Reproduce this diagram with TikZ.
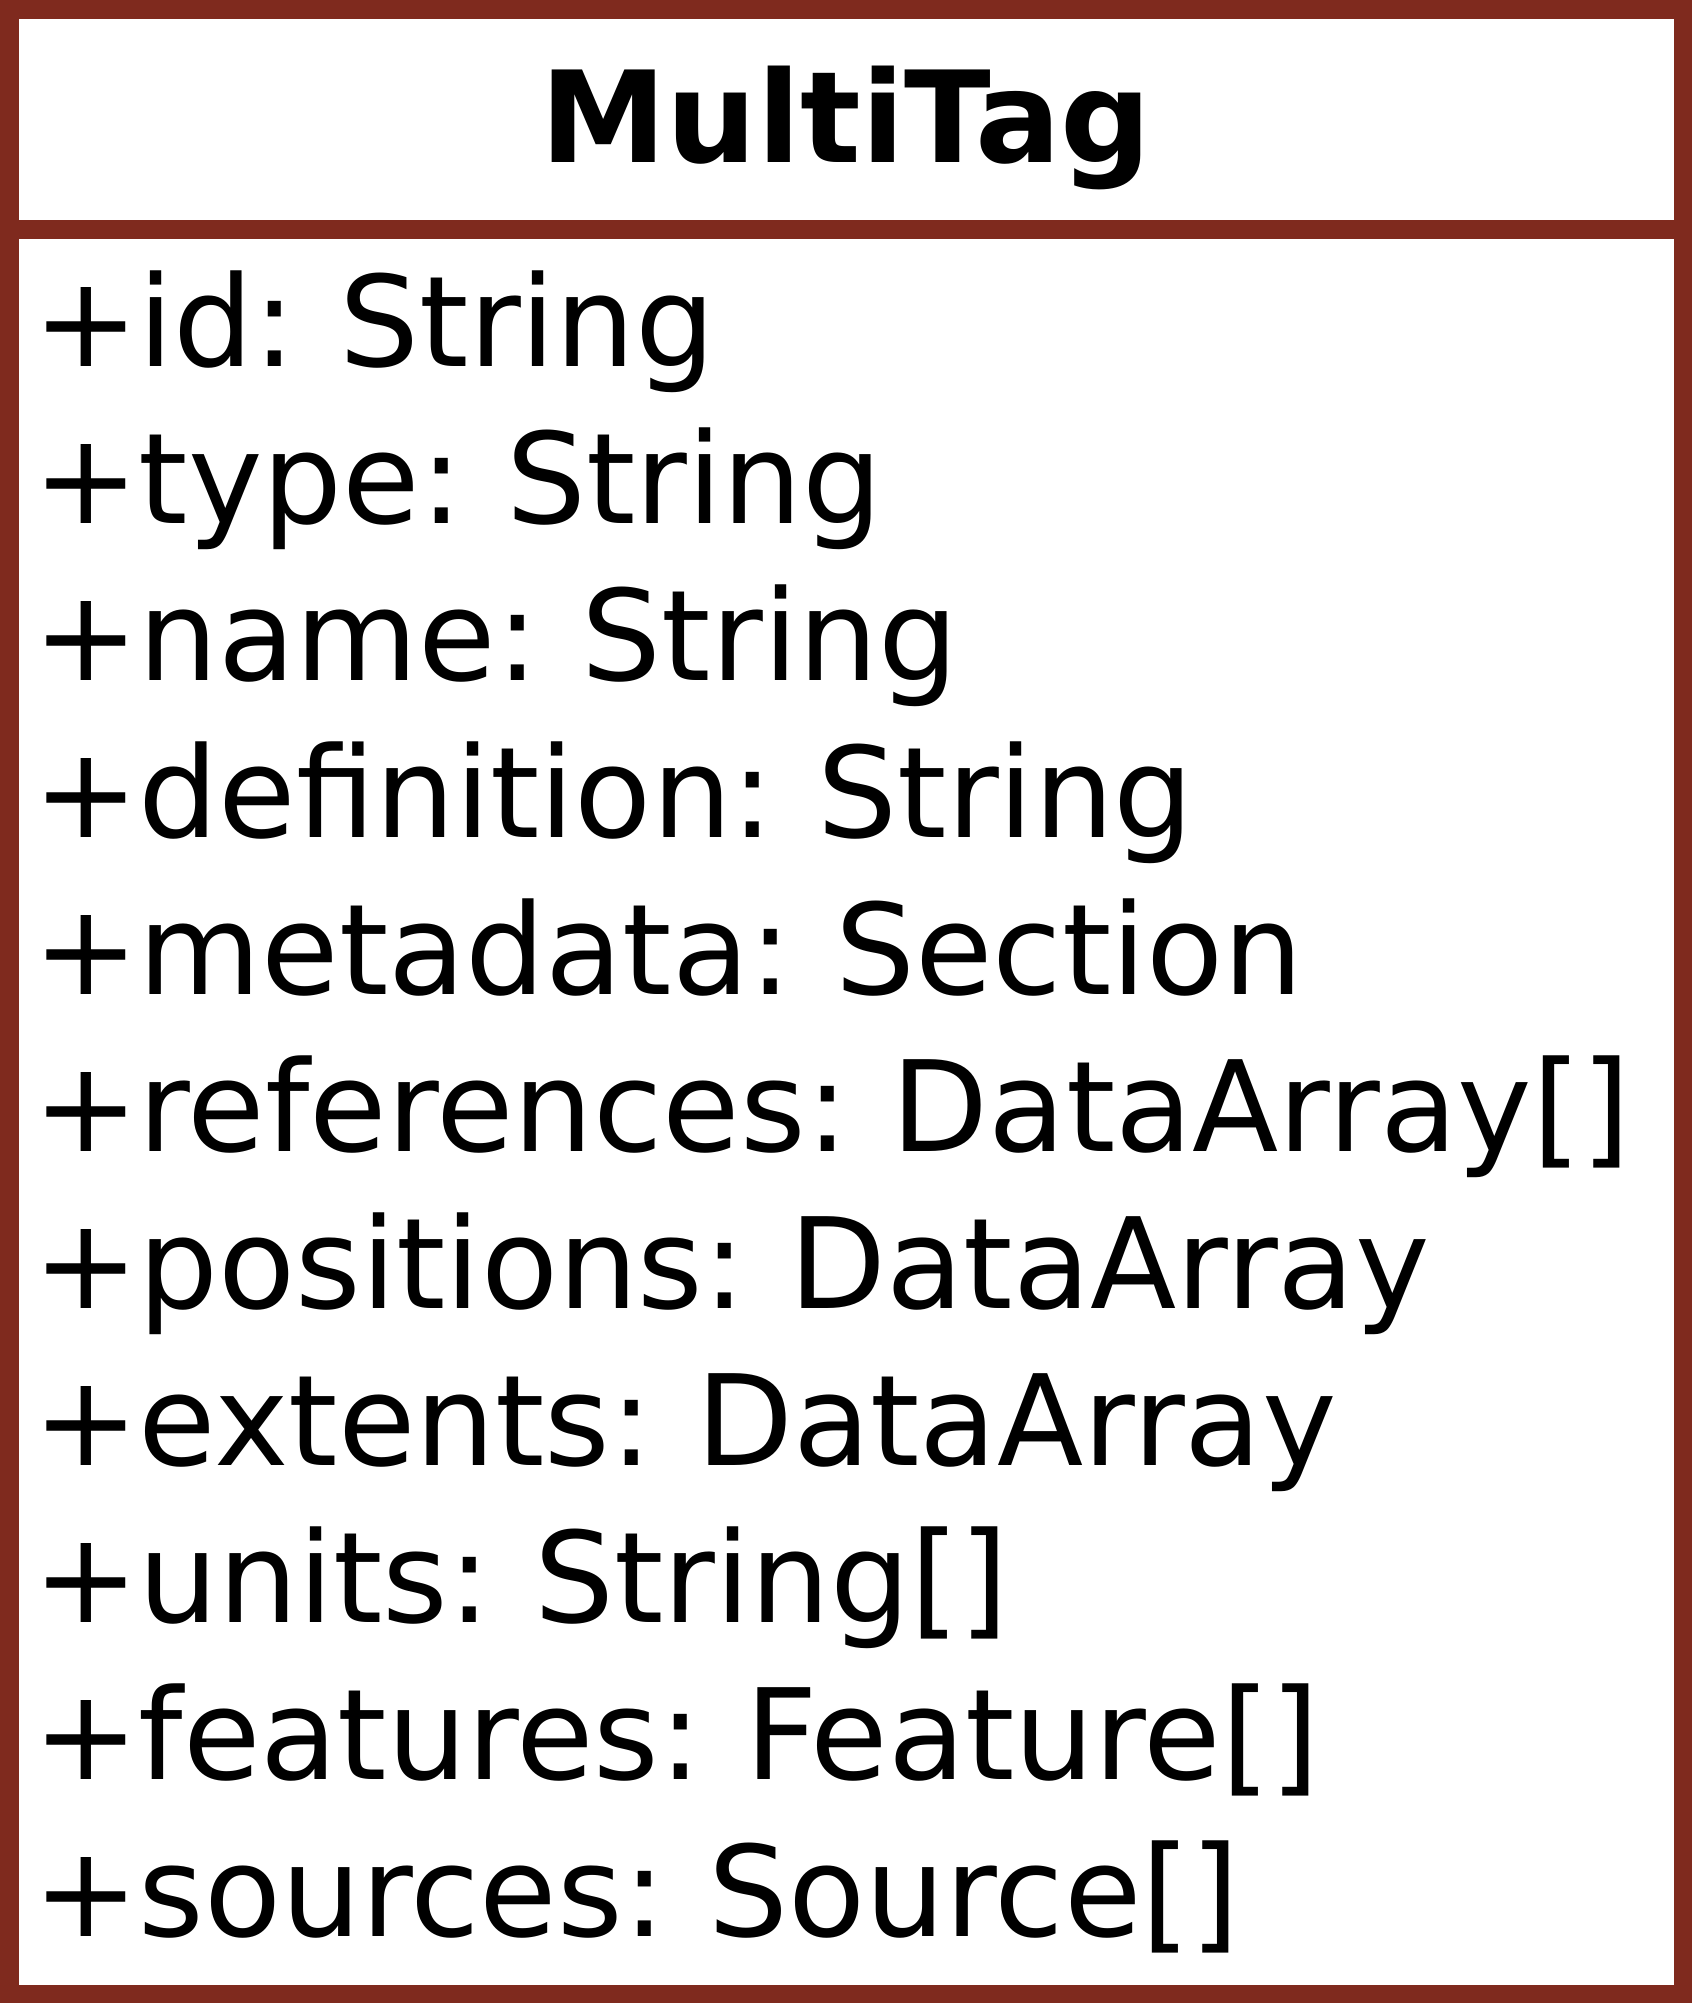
\documentclass[tikz,border=0pt]{standalone}
\usepackage{fontspec}
\setmainfont[WordSpace=0.75]{DejaVu Sans}
\definecolor{umlborder}{HTML}{7F2A1E}
\begin{document}
\begin{tikzpicture}[x=1pt,y=-1pt,
  frame/.style={draw=umlborder,line width=18.5pt},
  classname/.style={inner sep=0pt,anchor=base,font=\fontsize{127}{150}\selectfont\bfseries},
  attr/.style={inner sep=0pt,anchor=base west,font=\fontsize{126}{157}\selectfont}]
  \useasboundingbox (0,0) rectangle (1692,2003);
  % class box and header separator
  \draw[frame] (9.25,9.25) rectangle (1682.75,1993.75);
  \draw[frame] (9.25,229.5) -- (1682.75,229.5);
  % class name
  \node[classname] (title) at (846,162) {MultiTag};
  % attributes
  \node[attr] (a1)  at (33,366.5)  {+id: String};
  \node[attr] (a2)  at (33,523.5)  {+type: String};
  \node[attr] (a3)  at (33,680.5)  {+name: String};
  \node[attr] (a4)  at (33,837.5)  {+definition: String};
  \node[attr] (a5)  at (33,994.5)  {+metadata: Section};
  \node[attr] (a6)  at (33,1151.5) {+references: DataArray[]};
  \node[attr] (a7)  at (33,1308.5) {+positions: DataArray};
  \node[attr] (a8)  at (33,1465.5) {+extents: DataArray};
  \node[attr] (a9)  at (33,1622.5) {+units: String[]};
  \node[attr] (a10) at (33,1779.5) {+features: Feature[]};
  \node[attr] (a11) at (33,1936.5) {+sources: Source[]};
\end{tikzpicture}
\end{document}
